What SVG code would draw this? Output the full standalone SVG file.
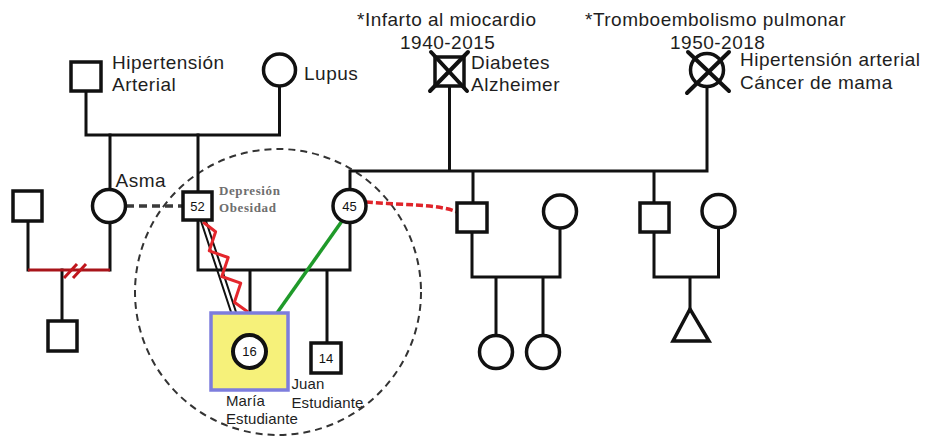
<svg xmlns="http://www.w3.org/2000/svg" width="925" height="437" viewBox="0 0 925 437">
<style>
.ln{stroke:#111;stroke-width:3;fill:none;stroke-linecap:square}
.nd{stroke:#111;stroke-width:3.5;fill:#fff}
.x{stroke:#111;stroke-width:4;stroke-linecap:round}
.t{font-family:"Liberation Sans",Arial,sans-serif;font-size:19px;letter-spacing:0.5px;fill:#1e1e1e}
.s{font-family:"Liberation Sans",Arial,sans-serif;font-size:15px;letter-spacing:0.1px;fill:#1e1e1e}
.n{font-family:"Liberation Sans",Arial,sans-serif;font-size:13px;fill:#111;text-anchor:middle}
.g{font-family:"Liberation Serif",serif;font-weight:bold;font-size:13px;letter-spacing:0.6px;fill:#6e6e6e}
</style>
<rect width="925" height="437" fill="#fff"/>
<circle id="ecomap" cx="278" cy="292" r="143" fill="none" stroke="#333" stroke-width="2" stroke-dasharray="7 5"/>
<g id="connectors">
  <path class="ln" d="M86,91 V135 H279.5 V86"/>
  <path class="ln" d="M110,135 V190 M198,135 V192"/>
  <path class="ln" d="M28,221 V270 M110,222 V270 M62,270 V321"/>
  <path d="M28,270 H110" stroke="#a8141a" stroke-width="3" fill="none"/>
  <path d="M64,278 L77,264 M73,278 L86,264" stroke="#c0161c" stroke-width="3" fill="none"/>
  <path d="M126,206 H183" stroke="#3a3a3a" stroke-width="3.5" stroke-dasharray="8 5" fill="none"/>
  <path class="ln" d="M449.5,86 V171 M707,86 V171 M350,190 V171 H707 M473,171 V203 M654,171 V203"/>
  <path class="ln" d="M198,220 V270 H350 V222 M250,270 V313 M327,270 V343"/>
  <path class="ln" d="M472,232 V277 H560 V228 M496,277 V336 M543,277 V336"/>
  <path class="ln" d="M654,232 V277 H718.5 V228 M690,277 V309"/>
  <path d="M366,202 C400,205 440,204 457,212" stroke="#e0242a" stroke-width="3.5" stroke-dasharray="7 3" fill="none"/>
  <path d="M342,221 L277,313" stroke="#1f9a2a" stroke-width="3.5" fill="none"/>
  <path d="M201,221 L233,318 M206,221 L238,318" stroke="#111" stroke-width="2" fill="none"/>
  <path d="M203,222 L215.6,231.8 L209.3,250.8 L228.2,257.5 L221.8,276.5 L240.7,283.2 L234.4,302.2 L248,312" stroke="#e4262c" stroke-width="3" fill="none" stroke-linejoin="round"/>
</g>
<g id="gf-paterno"><rect class="nd" x="71" y="62" width="30" height="29"/><text class="t" x="112" y="69">Hipertensión</text><text class="t" x="112" y="91">Arterial</text></g>
<g id="gm-paterna"><circle class="nd" cx="279.5" cy="70" r="16"/><text class="t" x="304" y="80">Lupus</text></g>
<g id="gf-materno"><rect class="nd" x="435" y="57" width="29" height="29"/><path class="x" d="M431,52 L467,91 M468,52 L430,91"/>
  <text class="t" x="357" y="26">*Infarto al miocardio</text><text class="t" x="400" y="48.5">1940-2015</text>
  <text class="t" x="471" y="68.5">Diabetes</text><text class="t" x="471" y="90.5">Alzheimer</text></g>
<g id="gm-materna"><circle class="nd" cx="707" cy="70" r="16.5"/><path class="x" d="M688,52 L729,91 M729,52 L687,93"/>
  <text class="t" x="585" y="26">*Tromboembolismo pulmonar</text><text class="t" x="670" y="48.5">1950-2018</text>
  <text class="t" x="740" y="66">Hipertensión arterial</text><text class="t" x="740" y="88.5">Cáncer de mama</text></g>
<g id="ex-pareja"><rect class="nd" x="13" y="191" width="29" height="30"/></g>
<g id="tia-asma"><circle class="nd" cx="109" cy="206" r="16.5"/><text class="t" x="115.5" y="186.5">Asma</text></g>
<g id="medio-hermano"><rect class="nd" x="48" y="321" width="29" height="30"/></g>
<g id="padre"><rect class="nd" x="183" y="192" width="29" height="28"/><text class="n" x="197.5" y="211">52</text>
  <text class="g" x="219" y="195">Depresión</text><text class="g" x="219" y="211.5">Obesidad</text></g>
<g id="madre"><circle class="nd" cx="349.5" cy="206" r="16.5"/><text class="n" x="349.5" y="210.5">45</text></g>
<g id="tio1"><rect class="nd" x="457" y="203" width="30" height="29"/></g>
<g id="tia1"><circle class="nd" cx="560" cy="211.5" r="16.5"/></g>
<g id="prima1"><circle class="nd" cx="496" cy="352" r="16.5"/></g>
<g id="prima2"><circle class="nd" cx="543" cy="352" r="16.5"/></g>
<g id="tio2"><rect class="nd" x="640" y="203" width="29" height="29"/></g>
<g id="tia2"><circle class="nd" cx="718.5" cy="211" r="16.5"/></g>
<g id="hijo-desconocido"><path class="nd" d="M690,309 L673,341 H709 Z" stroke-linejoin="miter"/></g>
<g id="maria"><rect x="211" y="313" width="77" height="77" fill="#f6f17a" stroke="#7d7ddd" stroke-width="3.5"/>
  <circle cx="249.5" cy="351.5" r="16.5" fill="#fff" stroke="#111" stroke-width="4"/><text class="n" x="249.5" y="356">16</text>
  <text class="s" x="226" y="405.5">María</text><text class="s" x="226" y="423.5">Estudiante</text></g>
<g id="juan"><rect class="nd" x="311" y="343" width="30" height="30"/><text class="n" x="326" y="362.5">14</text>
  <text class="s" x="291.5" y="389">Juan</text><text class="s" x="291.5" y="408">Estudiante</text></g>
</svg>
